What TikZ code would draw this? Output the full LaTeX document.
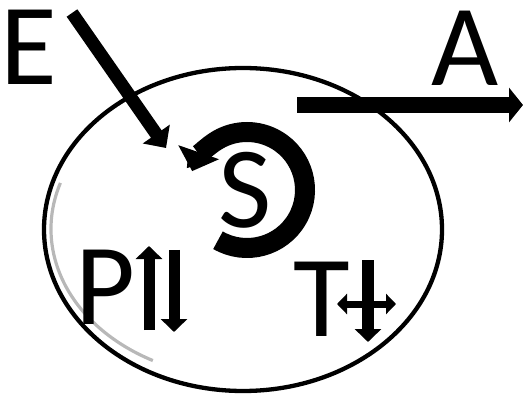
\documentclass[tikz,border=0pt]{standalone}
\usepackage{fontspec}
\setmainfont{Carlito}
\usetikzlibrary{arrows.meta,shapes.geometric}
\begin{document}
\begin{tikzpicture}[x=1pt,y=1pt,
  letter/.style={inner sep=0pt,font=\fontsize{116}{116}\selectfont},
  bigarrow/.style={line width=13pt,-{Triangle[length=17pt,width=32pt]}},
  smallarrow/.style={line width=11pt,-{Triangle[length=13pt,width=26pt]}}]
\useasboundingbox (0,0) rectangle (526,396);
% cell boundary
\node[draw,line width=4.3pt,ellipse,minimum width=398pt,minimum height=323pt,inner sep=0pt] (cell) at (243,166.5) {};
\draw[line width=3.2pt,black!28] ([shift={(162:192 and 149)}]243,167) arc[start angle=162,end angle=242,x radius=192,y radius=149];
% letters
\node[letter] (E) at (29,349) {E};
\node[letter] (A) at (465,348) {A};
\node[letter] (S) at (245,205.5) {S};
\node[letter] (P) at (105,109) {P};
\node[letter] (T) at (321.5,96.5) {T};
% E arrow
\coordinate (e0) at (72,383);
\coordinate (e1) at (166,248);
\draw[bigarrow] (e0) -- (e1);
% A arrow
\coordinate (a0) at (297,291);
\coordinate (a1) at (523,291);
\draw[line width=16pt,-{Triangle[length=14pt,width=34pt]}] (a0) -- (a1);
% circular arrow around S
\coordinate (sc) at (247,206);
\draw[line width=20pt,-{Triangle[length=20pt,width=42pt]}] ([shift={(-120:58)}]sc) arc[start angle=-120,end angle=161,radius=58];
% P arrows
\coordinate (pu0) at (149,66);
\coordinate (pu1) at (149,150);
\coordinate (pd0) at (174,146);
\coordinate (pd1) at (174,64);
\draw[smallarrow] (pu0) -- (pu1);
\draw[smallarrow] (pd0) -- (pd1);
% T arrows
\coordinate (tv0) at (368,136);
\coordinate (tv1) at (368,54);
\draw[line width=12pt,-{Triangle[length=13pt,width=26pt]}] (tv0) -- (tv1);
\coordinate (th0) at (337,92);
\coordinate (th1) at (396,92);
\draw[line width=7pt,{Triangle[length=10pt,width=20pt]}-{Triangle[length=10pt,width=20pt]}] (th0) -- (th1);
\end{tikzpicture}
\end{document}
